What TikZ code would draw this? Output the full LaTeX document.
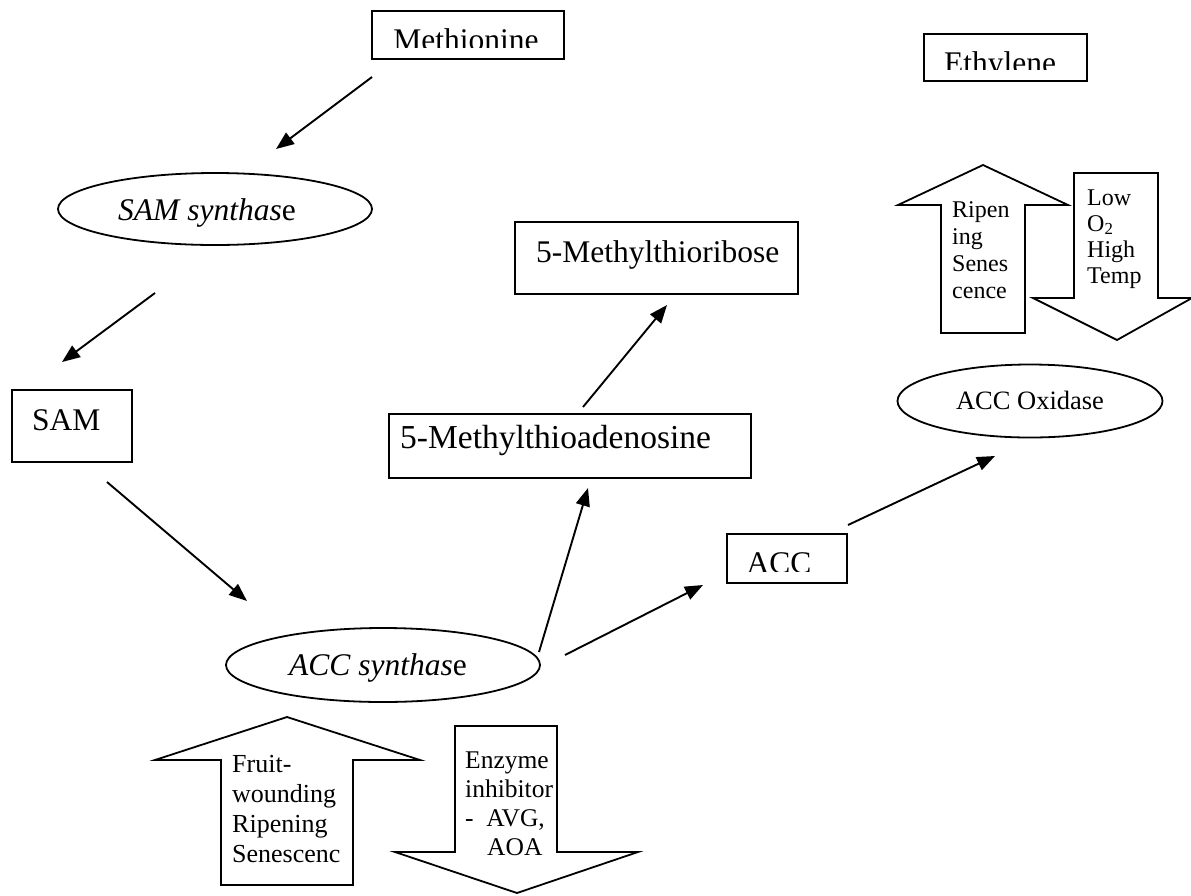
\documentclass[tikz,border=0pt]{standalone}
\usepackage{fontspec}
\setmainfont{Liberation Serif}
\usetikzlibrary{arrows.meta,shapes.geometric}
\begin{document}
\begin{tikzpicture}[x=1pt,y=-1pt,
  box/.style={draw,line width=1.9pt,inner sep=0pt,anchor=north west},
  ell/.style={draw,ellipse,line width=1.8pt,inner sep=0pt},
  lbl/.style={anchor=base west,inner sep=0pt,font=\fontsize{31.5}{36}\selectfont},
  clbl/.style={anchor=base,inner sep=0pt,font=\fontsize{31.5}{36}\selectfont},
  blk/.style={draw,line width=1.8pt,line join=miter},
  conn/.style={line width=1.9pt,-{Triangle[length=18pt,width=14pt]}}]
\useasboundingbox (0,0) rectangle (1191,895);

% boxes
\node[box,minimum width=192pt,minimum height=48pt] (meth) at (371,10) {};
\begin{scope}\clip (371,10) rectangle (563,47);
\node[clbl] (methT) at (466,50) {Methionine};
\end{scope}

\node[box,minimum width=163pt,minimum height=47pt] (eth) at (923,33) {};
\begin{scope}\clip (923,33) rectangle (1086,69);
\node[clbl] (ethT) at (1000,73) {Ethylene};
\end{scope}

\node[box,minimum width=120pt,minimum height=72pt] (sam) at (11,389) {};
\node[lbl] (samT) at (32,430) {SAM};

\node[box,minimum width=283pt,minimum height=72pt] (mtr) at (514,221) {};
\node[lbl] (mtrT) at (536,262) {5-Methylthioribose};

\node[box,minimum width=362pt,minimum height=64pt] (mta) at (388,413) {};
\node[lbl,font=\fontsize{33.5}{38}\selectfont] (mtaT) at (400,448) {5-Methylthioadenosine};

\node[box,minimum width=120pt,minimum height=49pt] (acc) at (726,533) {};
\begin{scope}\clip (726,533) rectangle (846,571);
\node[clbl] (accT) at (779,573) {ACC};
\end{scope}

% ellipses
\node[ell,minimum width=314pt,minimum height=72pt,text height=22pt,text depth=0pt,
  font=\fontsize{31.5}{36}\selectfont] (samsyn) at (215,209) {\textit{SAM synthas}e\hspace*{16pt}};
\node[ell,minimum width=314pt,minimum height=74pt,text height=20pt,text depth=0pt,
  font=\fontsize{31.5}{36}\selectfont] (accsyn) at (383,665) {\textit{ACC synthas}e\hspace*{10pt}};
\node[ell,minimum width=265pt,minimum height=73pt,text height=16pt,text depth=0pt,
  font=\fontsize{26.5}{30}\selectfont] (accox) at (1030,401) {ACC Oxidase};

% connectors
\coordinate (a1s) at (372,77);  \coordinate (a1e) at (276,149);
\coordinate (a2s) at (155,293); \coordinate (a2e) at (62,362);
\coordinate (a3s) at (107,482); \coordinate (a3e) at (247,601);
\coordinate (a4s) at (539,652); \coordinate (a4e) at (588,488);
\coordinate (a5s) at (583,407); \coordinate (a5e) at (667,305);
\coordinate (a6s) at (565,655); \coordinate (a6e) at (703,585);
\coordinate (a7s) at (848,525); \coordinate (a7e) at (995,456);
\draw[conn] (a1s) -- (a1e);
\draw[conn] (a2s) -- (a2e);
\draw[conn] (a3s) -- (a3e);
\draw[conn] (a4s) -- (a4e);
\draw[conn] (a5s) -- (a5e);
\draw[conn] (a6s) -- (a6e);
\draw[conn] (a7s) -- (a7e);

% block arrows top right
\draw[blk] (983,165) -- (1068,205) -- (1025,205) -- (1025,333) -- (941,333) -- (941,205) -- (898,205) -- cycle;
\node[anchor=base west,inner sep=0pt,font=\fontsize{24}{27}\selectfont] (ripT) at (952,217)
  {\begin{tabular}[t]{@{}l@{}}Ripen\\ing\\Senes\\cence\end{tabular}};
\draw[blk] (1074,173) -- (1158,173) -- (1158,298) -- (1192,298) -- (1117,340) -- (1033,298) -- (1074,298) -- cycle;
\node[anchor=base west,inner sep=0pt,font=\fontsize{24}{26}\selectfont] (lowT) at (1087,205)
  {\begin{tabular}[t]{@{}l@{}}Low\\O\textsubscript{2}\\High\\Temp\end{tabular}};

% block arrows bottom
\draw[blk] (287,717) -- (420,760) -- (353,760) -- (353,885) -- (221,885) -- (221,760) -- (155,760) -- cycle;
\node[anchor=base west,inner sep=0pt,font=\fontsize{26}{30}\selectfont] (fruT) at (232,772)
  {\begin{tabular}[t]{@{}l@{}}Fruit-\\wounding\\Ripening\\Senescenc\end{tabular}};
\draw[blk] (455,726) -- (557,726) -- (557,852) -- (638,852) -- (517,893) -- (395,852) -- (455,852) -- cycle;
\node[anchor=base west,inner sep=0pt,font=\fontsize{25.5}{29}\selectfont] (enzT) at (465,768)
  {\begin{tabular}[t]{@{}l@{}}Enzyme\\inhibitor\\- \ AVG,\\\hspace*{22pt}AOA\end{tabular}};
\end{tikzpicture}
\end{document}
